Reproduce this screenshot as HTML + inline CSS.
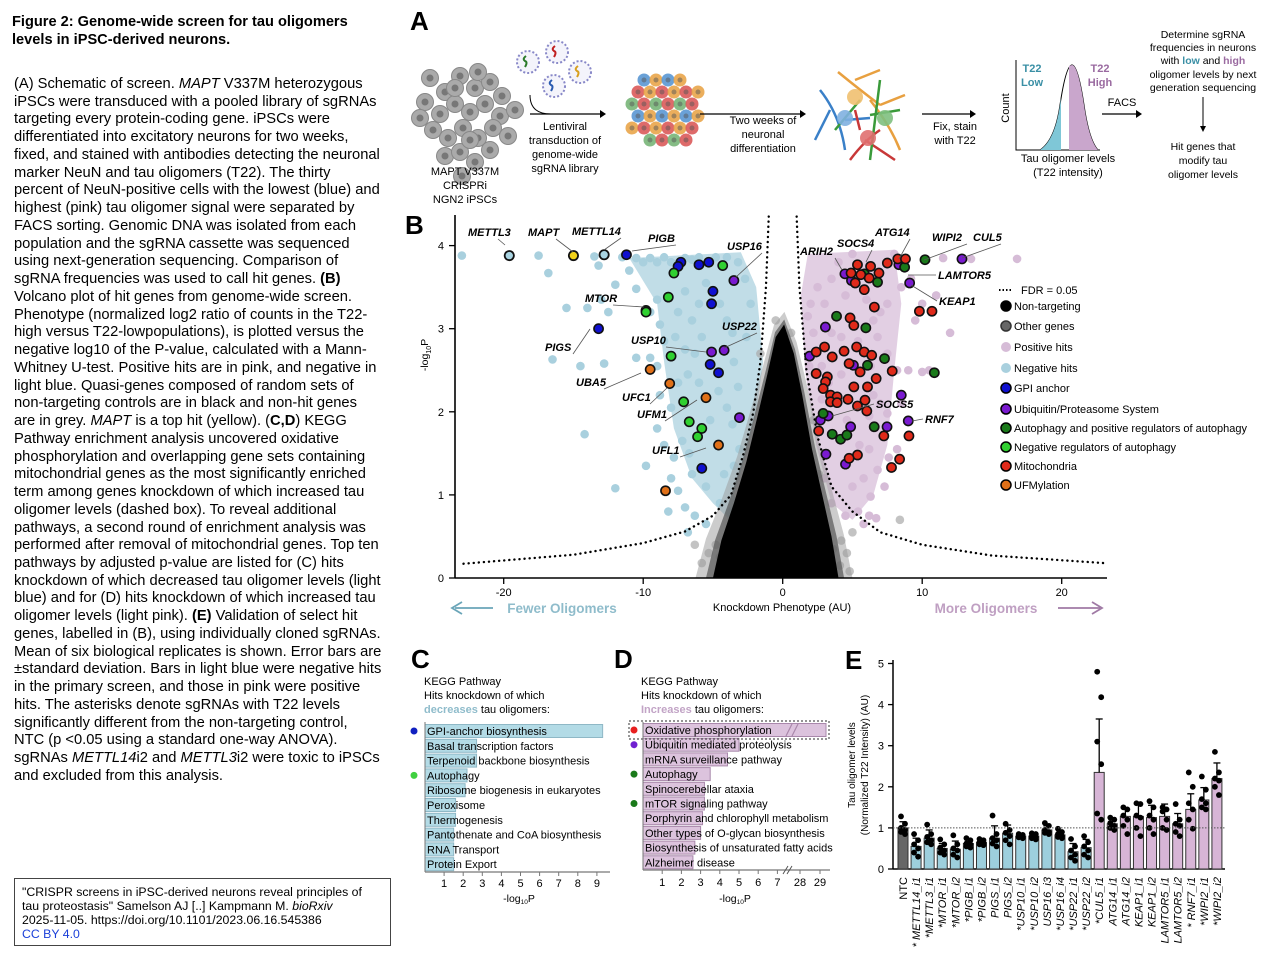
<!DOCTYPE html>
<html><head><meta charset="utf-8">
<style>
html,body{margin:0;padding:0;background:#fff;}
body{width:1280px;height:965px;position:relative;overflow:hidden;font-family:"Liberation Sans",Arial,sans-serif;color:#000;}
.ln{position:absolute;left:14px;white-space:nowrap;font-size:14.7px;line-height:17px;}
#cite{position:absolute;left:14px;top:878px;width:377px;height:68px;border:1px solid #444;font-size:12.3px;line-height:14px;padding:6px 0 0 7px;box-sizing:border-box;}
svg text{font-family:"Liberation Sans",Arial,sans-serif;}
</style></head>
<body>
<div style="position:absolute;left:12px;top:14px;font-weight:bold;font-size:14.6px;line-height:17.5px;">Figure 2: Genome-wide screen for tau oligomers<br>levels in iPSC-derived neurons.</div>
<div id="legendtext"></div>
<div id="cite">"CRISPR screens in iPSC-derived neurons reveal principles of<br>tau proteostasis" Samelson AJ [..] Kampmann M. <i>bioRxiv</i><br>2025-11-05. <a style="color:#000">https://doi.org/10.1101/2023.06.16.545386</a><br><a style="color:#1a3fd8;text-decoration:none">CC BY 4.0</a></div>

<svg id="fig" width="1280" height="965" style="position:absolute;left:0;top:0" xmlns="http://www.w3.org/2000/svg"></svg>

<script>
const captionLines=[
"(A) Schematic of screen. <i>MAPT</i> V337M heterozygous",
"iPSCs were transduced with a pooled library of sgRNAs",
"targeting every protein-coding gene. iPSCs were",
"differentiated into excitatory neurons for two weeks,",
"fixed, and stained with antibodies detecting the neuronal",
"marker NeuN and tau oligomers (T22). The thirty",
"percent of NeuN-positive cells with the lowest (blue) and",
"highest (pink) tau oligomer signal were separated by",
"FACS sorting. Genomic DNA was isolated from each",
"population and the sgRNA cassette was sequenced",
"using next-generation sequencing. Comparison of",
"sgRNA frequencies was used to call hit genes. <b>(B)</b>",
"Volcano plot of hit genes from genome-wide screen.",
"Phenotype (normalized log2 ratio of counts in the T22-",
"high versus T22-lowpopulations), is plotted versus the",
"negative log10 of the P-value, calculated with a Mann-",
"Whitney U-test. Positive hits are in pink, and negative in",
"light blue. Quasi-genes composed of random sets of",
"non-targeting controls are in black and non-hit genes",
"are in grey. <i>MAPT</i> is a top hit (yellow). (<b>C,D</b>) KEGG",
"Pathway enrichment analysis uncovered oxidative",
"phosphorylation and overlapping gene sets containing",
"mitochondrial genes as the most significantly enriched",
"term among genes knockdown of which increased tau",
"oligomer levels (dashed box). To reveal additional",
"pathways, a second round of enrichment analysis was",
"performed after removal of mitochondrial genes. Top ten",
"pathways by adjusted p-value are listed for (C) hits",
"knockdown of which decreased tau oligomer levels (light",
"blue) and for (D) hits knockdown of which increased tau",
"oligomer levels (light pink). <b>(E)</b> Validation of select hit",
"genes, labelled in (B), using individually cloned sgRNAs.",
"Mean of six biological replicates is shown. Error bars are",
"±standard deviation. Bars in light blue were negative hits",
"in the primary screen, and those in pink were positive",
"hits. The asterisks denote sgRNAs with T22 levels",
"significantly different from the non-targeting control,",
"NTC (p &lt;0.05 using a standard one-way ANOVA).",
"sgRNAs <i>METTL14</i>i2 and <i>METTL3</i>i2 were toxic to iPSCs",
"and excluded from this analysis."];
const lt=document.getElementById('legendtext');
captionLines.forEach((s,i)=>{const d=document.createElement('div');d.className='ln';d.style.top=(76+i*17.74)+'px';d.innerHTML=s;


lt.appendChild(d);});

const NS='http://www.w3.org/2000/svg';
const svg=document.getElementById('fig');
function el(tag,attrs,parent,txt){const e=document.createElementNS(NS,tag);for(const k in attrs)e.setAttribute(k,attrs[k]);if(txt!==undefined)e.textContent=txt;(parent||svg).appendChild(e);return e;}
function grp(name){const g=el('g',{});return g;}

const letters=[['A',410,30],['B',405,234],['C',411,668],['D',614,668],['E',845,669]];
letters.forEach(l=>{const t=el('text',{x:l[1],y:l[2],'font-size':26,'font-weight':'bold'},svg,l[0]);

});

// ---------- Panel A schematic ----------
const gA=grp('panel-a-schematic');
const greyCells=[[430,78],[445,92],[460,76],[475,88],[490,82],[502,96],[425,102],[440,114],[455,104],[470,112],[485,104],[500,116],[433,130],[448,138],[463,128],[478,138],[493,128],[508,136],[445,156],[460,152],[475,162],[490,150],[462,176],[478,72],[420,118],[515,110],[455,88],[470,140]];
greyCells.forEach(c=>{el('circle',{cx:c[0],cy:c[1],r:8.5,fill:'#aaa',stroke:'#888','stroke-width':1},gA);el('circle',{cx:c[0],cy:c[1],r:3.5,fill:'#777'},gA);});
[['MAPT V337M',465,175],['CRISPRi',465,189],['NGN2 iPSCs',465,203]].forEach(t=>el('text',{x:t[1],y:t[2],'font-size':11,'text-anchor':'middle'},gA,t[0]));
[[528,62,'#2a7a2a'],[557,52,'#c02020'],[580,72,'#d8a020'],[554,86,'#2a5ab0']].forEach(v=>{el('circle',{cx:v[0],cy:v[1],r:11,fill:'#f4f4fb',stroke:'#8888c8','stroke-width':2,'stroke-dasharray':'2 2'},gA);el('path',{d:`M${v[0]-3},${v[1]+5} q3,-5 0,-6 q-3,-2 1,-5`,stroke:v[2],fill:'none','stroke-width':2},gA);});
el('path',{d:'M530,95 Q530,115 553,114',fill:'none',stroke:'#000','stroke-width':1},gA);
el('line',{x1:530,y1:114,x2:600,y2:114,stroke:'#000','stroke-width':1.3},gA);
el('path',{d:'M600,110 L606,114 L600,118 Z'},gA);
[['Lentiviral',565,130],['transduction of',565,144],['genome-wide',565,158],['sgRNA library',565,172]].forEach(t=>el('text',{x:t[1],y:t[2],'font-size':11,'text-anchor':'middle'},gA,t[0]));
const cpal=['#e8a040','#d85050','#70b070','#5090d0','#e8a040','#d85050'];
for(let r=0;r<6;r++)for(let c=0;c<6;c++){const x=632+c*12+(r%2)*6,y=80+r*12;if((r==0&&(c<1||c>4))||(r==5&&(c<1||c>4)))continue;const col=cpal[(r*7+c*3)%6];el('circle',{cx:x,cy:y,r:6.5,fill:col,opacity:0.85},gA);el('circle',{cx:x,cy:y,r:2.5,fill:'#555',opacity:0.5},gA);}
el('line',{x1:700,y1:114,x2:800,y2:114,stroke:'#000','stroke-width':1.3},gA);
el('path',{d:'M800,110 L806,114 L800,118 Z'},gA);
[['Two weeks of',763,124],['neuronal',763,138],['differentiation',763,152]].forEach(t=>el('text',{x:t[1],y:t[2],'font-size':11,'text-anchor':'middle'},gA,t[0]));
[['#e8a040','M838,72 Q860,90 880,105 M855,80 L880,70 M870,100 Q890,125 900,150 M880,105 L905,95'],['#3a80c8','M820,90 Q840,115 845,150 M830,110 L815,140 M845,120 L870,118'],['#c83838','M850,160 Q865,140 880,130 M865,140 L895,160 M860,130 L855,110'],['#3a9a3a','M880,80 Q875,120 870,160 M870,115 L900,110 M860,100 L835,130']].forEach(n=>el('path',{d:n[1],stroke:n[0],'stroke-width':2.5,fill:'none'},gA));
[[855,97,'#f0c070'],[885,118,'#80c080'],[845,118,'#7fb0e0'],[868,138,'#e07070']].forEach(c=>el('circle',{cx:c[0],cy:c[1],r:8,fill:c[2],opacity:0.9},gA));
el('line',{x1:922,y1:114,x2:970,y2:114,stroke:'#000','stroke-width':1.3},gA);
el('path',{d:'M970,110 L976,114 L970,118 Z'},gA);
el('text',{x:955,y:130,'font-size':11,'text-anchor':'middle'},gA,'Fix, stain');
el('text',{x:955,y:144,'font-size':11,'text-anchor':'middle'},gA,'with T22');
el('path',{d:'M1016,60 L1016,150 L1100,150',stroke:'#000',fill:'none','stroke-width':1},gA);
el('path',{d:'M1040,150 Q1055,140 1060,105 Q1066,65 1072,65 Q1078,65 1084,105 Q1089,140 1098,150 Z',fill:'#fff',stroke:'#000','stroke-width':1},gA);
el('path',{d:'M1040,150 Q1055,140 1060,105 L1061,98 L1061,150 Z',fill:'#7fc7d7'},gA);
el('path',{d:'M1069,66 L1069,150 L1098,150 Q1089,140 1084,105 Q1078,65 1072,65 Z',fill:'#c9a6cc'},gA);
el('text',{x:1009,y:108,'font-size':11,transform:'rotate(-90 1009 108)','text-anchor':'middle'},gA,'Count');
el('text',{x:1032,y:72,'font-size':11,fill:'#3a8fa5','font-weight':'bold','text-anchor':'middle'},gA,'T22');
el('text',{x:1032,y:86,'font-size':11,fill:'#3a8fa5','font-weight':'bold','text-anchor':'middle'},gA,'Low');
el('text',{x:1100,y:72,'font-size':11,fill:'#9a6aa0','font-weight':'bold','text-anchor':'middle'},gA,'T22');
el('text',{x:1100,y:86,'font-size':11,fill:'#9a6aa0','font-weight':'bold','text-anchor':'middle'},gA,'High');
el('text',{x:1068,y:162,'font-size':11,'text-anchor':'middle'},gA,'Tau oligomer levels');
el('text',{x:1068,y:176,'font-size':11,'text-anchor':'middle'},gA,'(T22 intensity)');
el('line',{x1:1102,y1:114,x2:1136,y2:114,stroke:'#000','stroke-width':1.3},gA);
el('path',{d:'M1136,110 L1142,114 L1136,118 Z'},gA);
el('text',{x:1122,y:106,'font-size':11,'text-anchor':'middle'},gA,'FACS');
[['Determine sgRNA',1203,38],['frequencies in neurons',1203,51],['oligomer levels by next',1203,78],['generation sequencing',1203,91]].forEach(t=>el('text',{x:t[1],y:t[2],'font-size':10.5,'text-anchor':'middle'},gA,t[0]));
const wl=el('text',{x:1203,y:64,'font-size':10.5,'text-anchor':'middle'},gA);
el('tspan',{},wl,'with ');el('tspan',{fill:'#3a8fa5','font-weight':'bold'},wl,'low');el('tspan',{},wl,' and ');el('tspan',{fill:'#9a6aa0','font-weight':'bold'},wl,'high');
el('line',{x1:1203,y1:97,x2:1203,y2:128,stroke:'#000','stroke-width':1},gA);
el('path',{d:'M1200,126 L1203,132 L1206,126 Z'},gA);
[['Hit genes that',1203,150],['modify tau',1203,164],['oligomer levels',1203,178]].forEach(t=>el('text',{x:t[1],y:t[2],'font-size':10.5,'text-anchor':'middle'},gA,t[0]));

// ---------- Panel B volcano data ----------
const xTicks=[-20,-10,0,10,20];
const yTicks=[0,1,2,3,4];
const negCloud=[[-23,3.88],[-17.5,3.88],[-16.8,3.67],[-13.5,3.87],[-11.5,3.86],[-12,3.53],[-15.5,3.25],[-14,3.25],[-13,3.35],[-12.5,3.2],[-16.5,2.63],[-14.5,2.55],[-14.2,1.73],[-12,1.08],[-10.5,3.85],[-10,3.8],[-9.5,3.85],[-9,3.8],[-8.5,3.86],[-8,3.8],[-7,3.85],[-6.5,3.83],[-6,3.86],[-4.8,3.86],[-4,3.86],[-3.2,3.8],[-10.5,3.48],[-9.5,3.2],[-9,3.35],[-8.8,3.05],[-7.5,3.2],[-7,3.45],[-6.5,3.1],[-6,3.3],[-5.5,3.55],[-4.5,3.3],[-4,3.1],[-3.6,2.95],[-10.5,2.65],[-9.5,2.65],[-9,2.55],[-8.5,2.85],[-7.7,2.9],[-7,2.75],[-6.3,2.7],[-5.8,2.9],[-3.5,2.6],[-3.2,2.3],[-8.8,2.2],[-8,2.05],[-7.5,2.35],[-6.8,2.45],[-6,2.35],[-4,2.05],[-3.6,1.85],[-9,1.8],[-8.5,1.6],[-7.8,1.45],[-7.2,1.65],[-6.7,1.5],[-5.2,1.9],[-4.6,2.25],[-3.1,1.55],[-9.8,1.35],[-8,1.2],[-7.5,1.05],[-6.5,1.25],[-5.5,1.1],[-4.2,1.25],[-3.5,1.35],[-8.2,0.8],[-7,0.85],[-6.3,0.75],[-5.5,0.65],[-4.5,0.9],[-3.8,0.8],[-6.8,0.55],[-2.6,2.9],[-2.3,3.3],[-2.7,3.6],[-11,3.7],[-12.8,2.58],[-13.2,3.76]];
const posCloud=[[16.8,3.84],[13.5,3.84],[12,2.95],[11,3.4],[10,3.3],[9.5,3.1],[8.5,3.5],[7.5,3.3],[7,3.2],[8.2,2.5],[9,2.5],[10,2.48],[10.5,2.5],[7.5,2.7],[6.8,2.9],[8.5,2.1],[7.5,1.98],[7,2.1],[6.2,1.95],[5,3.9],[4,3.8],[3.5,3.6],[2.5,3.5],[2,3.3],[2.2,2.95],[1.8,3.15],[3,3.3],[4.5,3.4],[6,3.35],[6.5,3.1],[3.5,2.95],[4.2,2.9],[1.9,2.55],[2.8,2.55],[6.5,2.2],[5.5,1.6],[6.2,1.55],[6.8,1.3],[7.6,1.45],[5.8,1.2],[6.3,0.98],[5.4,0.8],[6.2,0.75],[5.8,0.65],[6.7,0.72],[7.3,1.1],[8.2,1.55],[5,1.1],[4.6,1.9],[3,1.2],[3.5,0.9],[4.5,0.75],[2.8,2.15],[8,3.9],[11.5,3.85],[9.2,3.6],[6.3,2.55],[5.4,2.85],[4.2,2.45],[3.3,2.35]];
const greyPts=[[-4.8,0.4],[-4.5,0.25],[-5.3,0.3],[-3.9,0.5],[-3.2,0.4],[3.6,0.35],[4.2,0.45],[4.6,0.3],[5,0.55],[4.1,0.15],[-6.3,0.4],[8.4,0.7],[-2.5,1.0],[2.6,1.25],[-0.5,3.1],[0.6,2.95],[-1.6,2.7],[2.2,1.9],[-5.8,0.18],[4.8,0.08]];
const blackEnvX=[-5.0,-4.4,-3.5,-2.6,-1.8,-1.1,-0.5,0.1,0.8,1.4,2.1,2.9,3.5,4.0];
const blackEnvTop=[0,0.45,0.9,1.4,1.95,2.45,2.9,3.05,2.7,2.2,1.55,0.95,0.5,0];
const negDenseX=[-2.0,-3.5,-5.0,-6.5,-7.8,-8.5,-9.0,-11.0,-3.0,-1.9,-1.4,-1.9,-2.6,-3.5];
const negDenseY=[0.55,0.65,0.9,1.2,1.8,2.6,3.3,3.85,3.92,3.5,2.6,2.0,1.5,1.0];
const posDenseX=[2.4,1.6,1.3,1.8,8.0,8.5,8.0,7.5,6.5,5.0,3.5];
const posDenseY=[1.6,2.5,3.4,3.9,3.95,3.3,2.5,1.6,1.0,0.7,0.9];
const fdrLeftX=[-1.0,-1.2,-1.6,-2.1,-2.8,-3.7,-5,-7,-10,-15,-23];
const fdrLeftY=[4.35,3.5,2.6,2.0,1.5,1.0,0.75,0.56,0.42,0.28,0.17];
const fdrRightX=[1.0,1.2,1.7,2.5,3.5,5,7,10,15,23];
const fdrRightY=[4.35,3.5,2.5,1.7,1.1,0.8,0.55,0.4,0.27,0.18];
const hitX={
 gpi:[-11.2,-7.3,-7.5,-6,-5.3,-5,-5.1,-13.2,-5.2,-4.6,-5.8],
 ups:[-3.5,-5.1,-4.2,-3.1,4.46,4.93,8.33,9.1,12.85,3.06,1.93,5.07,8.5,2.7,3.26,4.87,7.48,9.0,3.1,4.5],
 autoPos:[10.2,8.74,6.8,3.86,5.96,7.3,6.08,10.87,2.9,3.55,4.15,4.6,6.56,5.85,-9.8],
 autoNeg:[-7.8,-8.2,-9.8,-8,-7.1,-6.7,-5.8,-6.1,-4.3],
 mito:[5.36,6.3,7.5,8.25,8.8,4.9,5.6,6.2,6.9,5.2,5.85,6.57,9.8,10.7,4.83,5.1,3.0,2.4,3.55,4.4,5.3,5.84,6.38,2.4,3.2,3.07,2.9,4.76,5.55,6.7,7.85,5.1,6.08,3.43,3.9,3.43,3.9,4.68,5.36,5.9,6.03,2.58,7.25,9.05,5.36,4.76,8.38,7.8],
 ufm:[-9.5,-8.1,-5.5,-4.6,-8.4]};
const hitY={
 gpi:[3.89,3.8,3.75,3.77,3.8,3.45,3.3,3.0,2.57,2.47,1.32],
 ups:[3.58,2.72,2.74,1.93,3.66,3.58,3.77,3.55,3.84,3.02,2.67,2.56,2.2,1.9,1.95,1.82,1.82,1.89,1.49,1.37],
 autoPos:[3.83,3.74,3.56,3.15,3.01,2.64,2.56,2.47,1.98,1.73,1.67,1.72,1.82,3.66,3.22],
 autoNeg:[3.67,3.38,3.2,2.67,2.12,1.88,1.8,1.7,3.76],
 mito:[3.77,3.75,3.79,3.84,3.84,3.67,3.65,3.61,3.67,3.55,3.47,3.26,3.21,3.21,3.13,3.04,2.78,2.72,2.66,2.73,2.78,2.72,2.68,2.46,2.42,2.36,2.28,2.58,2.48,2.4,2.49,2.3,2.3,2.2,2.18,2.12,2.11,2.15,2.07,2.14,2.01,1.77,1.71,1.71,1.48,1.44,1.43,1.33],
 ufm:[2.51,2.34,2.17,1.6,1.05]};
const hitColors={gpi:'#1010d0',ups:'#7a1ad0',autoPos:'#1a7a1a',autoNeg:'#30d030',mito:'#e02a1a',ufm:'#e07018'};
const specialX=[-19.6,-15,-12.8];
const specialY=[3.88,3.88,3.89];
const specialFill=['#a9d4e2','#f2d21a','#a9d4e2'];

const vx=d=>782.7+d*13.95, vy=d=>578-d*83.1;
const gB=grp('panel-b-volcano-plot');
const clip=el('clipPath',{id:'vclip'},gB);el('rect',{x:452,y:215,width:660,height:363},clip);
const gPlot=el('g',{'clip-path':'url(#vclip)'},gB);
function poly(xs,ys,fill,op,name){const p=el('polygon',{points:xs.map((x,i)=>vx(x)+','+vy(ys[i])).join(' '),fill:fill,opacity:op},gPlot);return p;}
poly(negDenseX,negDenseY,'#acd2df',0.75,'negative-hits-dense-region');
poly(posDenseX,posDenseY,'#d8bfd9',0.75,'positive-hits-dense-region');
negCloud.forEach(p=>{const c=el('circle',{cx:vx(p[0]),cy:vy(p[1]),r:4.3,fill:'#a9d0de'},gPlot);});
posCloud.forEach(p=>{const c=el('circle',{cx:vx(p[0]),cy:vy(p[1]),r:4.3,fill:'#d6bcd7'},gPlot);});
greyPts.forEach(p=>{const c=el('circle',{cx:vx(p[0]),cy:vy(p[1]),r:4.3,fill:'#aaa',opacity:0.7},gPlot);});
poly(blackEnvX.map(x=>x*1.25),blackEnvTop.map(y=>y*1.05),'#999',0.5,'other-genes-halo');
poly(blackEnvX.map(x=>x*1.1),blackEnvTop.map(y=>y*1.02),'#555',0.7,'other-genes-inner-halo');
poly(blackEnvX,blackEnvTop,'#000',1,'non-targeting-cloud');
[[fdrLeftX,fdrLeftY,'fdr-line-left'],[fdrRightX,fdrRightY,'fdr-line-right']].forEach(f=>{const l=el('polyline',{points:f[0].map((x,i)=>vx(x)+','+vy(f[1][i])).join(' '),fill:'none',stroke:'#000','stroke-width':2.4,'stroke-dasharray':'0.1 5','stroke-linecap':'round'},gPlot);});
for(const k in hitX){hitX[k].forEach((x,i)=>{const c=el('circle',{cx:vx(x),cy:vy(hitY[k][i]),r:4.6,fill:hitColors[k],stroke:'#111','stroke-width':1.6},gPlot);});}
specialX.forEach((x,i)=>{const c=el('circle',{cx:vx(x),cy:vy(specialY[i]),r:4.6,fill:specialFill[i],stroke:'#111','stroke-width':1.8},gPlot);});
el('line',{x1:455,y1:215,x2:455,y2:578,stroke:'#000','stroke-width':1.6},gB);
el('line',{x1:455,y1:578,x2:1107,y2:578,stroke:'#000','stroke-width':1.6},gB);
yTicks.forEach(t=>{el('line',{x1:449,y1:vy(t),x2:455,y2:vy(t),stroke:'#000','stroke-width':1.3},gB);const tx=el('text',{x:444,y:vy(t)+4,'font-size':11,'text-anchor':'end'},gB,t);});
xTicks.forEach(t=>{el('line',{x1:vx(t),y1:578,x2:vx(t),y2:584,stroke:'#000','stroke-width':1.3},gB);const tx=el('text',{x:vx(t),y:596,'font-size':11,'text-anchor':'middle'},gB,t);});
const yl=el('text',{x:428,y:355,'font-size':10.5,'text-anchor':'middle',transform:'rotate(-90 428 355)'},gB);el('tspan',{},yl,'-log');el('tspan',{'font-size':7,dy:3},yl,'10');el('tspan',{dy:-3},yl,'P');

const xt=el('text',{x:782,y:611,'font-size':11,'text-anchor':'middle'},gB,'Knockdown Phenotype (AU)');
el('text',{x:562,y:613,'font-size':13.5,'font-weight':'bold','text-anchor':'middle',fill:'#8fbccb'},gB,'Fewer Oligomers');
el('line',{x1:455,y1:608,x2:493,y2:608,stroke:'#6aa5b8','stroke-width':1.8},gB);
el('path',{d:'M462,602 L452,608 L462,614',fill:'none',stroke:'#6aa5b8','stroke-width':1.8},gB);
el('text',{x:986,y:613,'font-size':13.5,'font-weight':'bold','text-anchor':'middle',fill:'#bf9fc2'},gB,'More Oligomers');
el('line',{x1:1058,y1:608,x2:1100,y2:608,stroke:'#a07aa5','stroke-width':1.8},gB);
el('path',{d:'M1092,602 L1102,608 L1092,614',fill:'none',stroke:'#a07aa5','stroke-width':1.8},gB);
const gLab=[['METTL3',468,236,505,245],['MAPT',528,236,573,252],['METTL14',572,235,604,250],['PIGB',648,242,632,251],['USP16',727,250,735,278],['MTOR',585,302,644,307],['PIGS',545,351,590,329],['USP10',631,344,706,352],['USP22',722,330,724,348],['UBA5',576,386,641,373],['UFC1',622,401,667,388],['UFM1',637,418,697,400],['UFL1',652,454,706,448],['ARIH2',800,255,842,270],['SOCS4',837,247,866,262],['ATG14',875,236,899,259],['WIPI2',932,241,924,260],['CUL5',973,241,962,258],['LAMTOR5',938,279,908,275],['KEAP1',939,305,911,285],['SOCS5',876,408,832,416],['RNF7',925,423,912,421]];
const leftAnch=['RNF7','LAMTOR5','KEAP1','SOCS5'];
gLab.forEach(g=>{const t=el('text',{x:g[1],y:g[2],'font-size':11,'font-weight':'bold','font-style':'italic'},gB,g[0]);
const isL=leftAnch.includes(g[0]);
const lx=isL?g[1]-2:(g[0]=='METTL3'?498:g[1]+g[0].length*7); const ly=isL?g[2]-4:g[2]+3;
el('line',{x1:lx,y1:ly,x2:g[3],y2:g[4],stroke:'#555','stroke-width':0.8},gB);});
const legItems=[['Non-targeting','#000','#000'],['Other genes','#666','#333'],['Positive hits','#d6bcd7','none'],['Negative hits','#a9d0de','none'],['GPI anchor','#1010d0','#000'],['Ubiquitin/Proteasome System','#7a1ad0','#000'],['Autophagy and positive regulators of autophagy','#1a7a1a','#000'],['Negative regulators of autophagy','#30d030','#000'],['Mitochondria','#e02a1a','#000'],['UFMylation','#e07018','#000']];
const legY=[306,326,347,368,388,409,428,447,466,485];
const gL=grp('volcano-legend');
el('line',{x1:999,y1:290,x2:1012,y2:290,stroke:'#000','stroke-width':2,'stroke-dasharray':'1.5 2'},gL);
el('text',{x:1021,y:294,'font-size':11},gL,'FDR = 0.05');
legItems.forEach((l,i)=>{const g=el('g',{},gL);
el('circle',{cx:1006,cy:legY[i],r:5,fill:l[1],stroke:l[2],'stroke-width':1.5},g);el('text',{x:1014,y:legY[i]+4,'font-size':11},g,l[0]);});

// ---------- Panel C ----------
const cTerms=['GPI-anchor biosynthesis','Basal transcription factors','Terpenoid backbone biosynthesis','Autophagy','Ribosome biogenesis in eukaryotes','Peroxisome','Thermogenesis','Pantothenate and CoA biosynthesis','RNA Transport','Protein Export'];
const cValues=[9.3,2.7,2.7,2.2,2.1,1.6,1.6,1.5,1.5,1.5];
const cTicks=[1,2,3,4,5,6,7,8,9];
const cx0=425, cs=19.1, rowY0=731, rowH=14.8;
const gC=grp('panel-c-kegg-decreases');
[['KEGG Pathway',685],['Hits knockdown of which',699]].forEach(t=>el('text',{x:424,y:t[1],'font-size':11},gC,t[0]));
const ct=el('text',{x:424,y:713,'font-size':11},gC);el('tspan',{fill:'#8fbccb','font-weight':'bold'},ct,'decreases');el('tspan',{},ct,' tau oligomers:');
cTerms.forEach((t,i)=>{const y=rowY0+i*rowH;const r=el('rect',{x:cx0,y:y-6.5,width:cValues[i]*cs,height:13,fill:'#b3dbe6',stroke:'#8fb8c6','stroke-width':1},gC);
el('text',{x:427,y:y+4,'font-size':11},gC,t);});
el('circle',{cx:414,cy:rowY0,r:3.5,fill:'#1020c0'},gC);el('circle',{cx:414,cy:rowY0+3*rowH,r:3.5,fill:'#40d040'},gC);
el('line',{x1:cx0,y1:872,x2:610,y2:872,stroke:'#777','stroke-width':1.3},gC);
el('line',{x1:cx0,y1:722,x2:cx0,y2:872,stroke:'#777','stroke-width':1},gC);
cTicks.forEach(t=>{el('line',{x1:cx0+t*cs,y1:872,x2:cx0+t*cs,y2:876,stroke:'#777'},gC);el('text',{x:cx0+t*cs,y:887,'font-size':11,'text-anchor':'middle'},gC,t);});
const cxl=el('text',{x:519,y:902,'font-size':10.5,'text-anchor':'middle'},gC);el('tspan',{},cxl,'-log');el('tspan',{'font-size':6.5,dy:2},cxl,'10');el('tspan',{dy:-2},cxl,'P');

// ---------- Panel D ----------
const dTerms=['Oxidative phosphorylation','Ubiquitin mediated proteolysis','mRNA surveillance pathway','Autophagy','Spinocerebellar ataxia','mTOR signaling pathway','Porphyrin and chlorophyll metabolism','Other types of O-glycan biosynthesis','Biosynthesis of unsaturated fatty acids','Alzheimer disease'];
const dValues=[29.3,5.0,4.4,3.5,3.2,3.2,3.1,3.0,2.7,2.6];
const dTicks=[1,2,3,4,5,6,7,28,29];
const dx0=643, ds=19.2;
const dScale=v=>v<=7.5?dx0+v*ds:800+(v-28)*20;
const dRow0=730, dRowH=14.7;
const gD=grp('panel-d-kegg-increases');
[['KEGG Pathway',685],['Hits knockdown of which',699]].forEach(t=>el('text',{x:641,y:t[1],'font-size':11},gD,t[0]));
const dt=el('text',{x:641,y:713,'font-size':11},gD);el('tspan',{fill:'#c2a4c6','font-weight':'bold'},dt,'Increases');el('tspan',{},dt,' tau oligomers:');
dTerms.forEach((t,i)=>{const y=dRow0+i*dRowH;const r=el('rect',{x:dx0,y:y-6.5,width:dScale(dValues[i])-dx0,height:13,fill:'#dcc3dd',stroke:'#a988ab','stroke-width':1},gD);
el('text',{x:645,y:y+4,'font-size':11},gD,t);});
el('path',{d:`M786,${dRow0+6} L792,${dRow0-6} M792,${dRow0+6} L798,${dRow0-6}`,stroke:'#a988ab','stroke-width':1.2,fill:'none'},gD);
el('rect',{x:629,y:721,width:200,height:18,fill:'none',stroke:'#555','stroke-width':1.2,'stroke-dasharray':'2 2'},gD);
[[0,'#e82020'],[1,'#7020d0'],[3,'#1a7a1a'],[5,'#1a7a1a']].forEach(d=>el('circle',{cx:634,cy:dRow0+d[0]*dRowH,r:3.5,fill:d[1]},gD));
el('line',{x1:dx0,y1:870,x2:830,y2:870,stroke:'#777','stroke-width':1.3},gD);
el('line',{x1:dx0,y1:722,x2:dx0,y2:870,stroke:'#777','stroke-width':1},gD);
el('path',{d:'M783,874 L788,866 M787,874 L792,866',stroke:'#555',fill:'none'},gD);
dTicks.forEach(t=>{el('line',{x1:dScale(t),y1:870,x2:dScale(t),y2:874,stroke:'#777'},gD);el('text',{x:dScale(t),y:886,'font-size':11,'text-anchor':'middle'},gD,t);});
const dxl=el('text',{x:735,y:902,'font-size':10.5,'text-anchor':'middle'},gD);el('tspan',{},dxl,'-log');el('tspan',{'font-size':6.5,dy:2},dxl,'10');el('tspan',{dy:-2},dxl,'P');

// ---------- Panel E ----------
const eLabels=['NTC','* METTL14_i1','*METTL3_i1','*MTOR_i1','*MTOR_i2','*PIGB_i1','*PIGB_i2','PIGS_i1','PIGS_i2','*USP10_i1','*USP10_i2','USP16_i3','*USP16_i4','*USP22_i1','*USP22_i2','*CUL5_i1','ATG14_i1','ATG14_i2','KEAP1_i1','KEAP1_i2','LAMTOR5_i1','LAMTOR5_i2','* RNF7_i1','*WIPI2_i1','*WIPI2_i2'];
const eMeans=[1.0,0.55,0.75,0.5,0.48,0.62,0.65,0.75,0.87,0.8,0.8,0.95,0.83,0.42,0.52,2.35,1.1,1.28,1.28,1.25,1.28,1.1,1.45,1.68,2.2];
const eSD=[0.15,0.2,0.2,0.12,0.2,0.1,0.08,0.3,0.2,0.05,0.07,0.1,0.1,0.2,0.2,1.3,0.15,0.2,0.3,0.3,0.3,0.25,0.38,0.3,0.38];
const eGroup=['ntc','neg','neg','neg','neg','neg','neg','neg','neg','neg','neg','neg','neg','neg','neg','pos','pos','pos','pos','pos','pos','pos','pos','pos','pos'];
const eReps=[[1.28,1.1,1.0,0.95,0.9,0.85],[0.85,0.7,0.6,0.5,0.4,0.3],[1.08,0.85,0.78,0.7,0.65,0.6],[0.72,0.6,0.52,0.45,0.4,0.35],[0.82,0.6,0.5,0.45,0.35,0.28],[0.75,0.7,0.62,0.6,0.55,0.52],[0.73,0.7,0.65,0.62,0.6,0.58],[1.3,0.85,0.75,0.7,0.62,0.55],[1.1,0.95,0.88,0.8,0.7,0.6],[0.85,0.83,0.8,0.78,0.77,0.75],[0.87,0.85,0.8,0.78,0.75,0.72],[1.12,1.05,0.95,0.9,0.88,0.85],[0.98,0.9,0.85,0.8,0.78,0.75],[0.73,0.55,0.45,0.35,0.28,0.2],[0.8,0.65,0.55,0.45,0.35,0.28],[4.8,4.18,3.1,2.55,1.35,1.2],[1.25,1.2,1.12,1.05,1.0,0.95],[1.5,1.45,1.3,1.2,1.05,0.85],[1.6,1.58,1.3,1.25,1.0,0.8],[1.65,1.5,1.3,1.2,1.0,0.85],[1.5,1.45,1.4,1.2,1.0,0.95],[1.58,1.2,1.1,1.05,0.9,0.8],[2.35,2.0,1.6,1.45,1.2,0.98],[2.25,1.93,1.7,1.6,1.5,1.45],[2.85,2.35,2.2,2.15,2.0,1.8]];
const eTicks=[0,1,2,3,4,5];
const ex=i=>903+i*13.08, ey=v=>869-v*41.1;
const gE=grp('panel-e-validation-bars');
el('line',{x1:893,y1:660,x2:893,y2:869,stroke:'#000','stroke-width':1.5},gE);
el('line',{x1:893,y1:869,x2:1225,y2:869,stroke:'#000','stroke-width':1.5},gE);
eTicks.forEach(t=>{el('line',{x1:888,y1:ey(t),x2:893,y2:ey(t),stroke:'#000','stroke-width':1.3},gE);el('text',{x:884,y:ey(t)+4,'font-size':11,'text-anchor':'end'},gE,t);});
const fillE={ntc:'#666',neg:'#9dcfdd',pos:'#d7b5d6'};
eMeans.forEach((m,i)=>{const r=el('rect',{x:ex(i)-5,y:ey(m),width:10,height:ey(0)-ey(m),fill:fillE[eGroup[i]],stroke:'#333','stroke-width':1},gE);
el('line',{x1:ex(i),y1:ey(m+eSD[i]),x2:ex(i),y2:ey(m),stroke:'#000','stroke-width':1.3},gE);el('line',{x1:ex(i)-3.5,y1:ey(m+eSD[i]),x2:ex(i)+3.5,y2:ey(m+eSD[i]),stroke:'#000','stroke-width':1.3},gE);
eReps[i].forEach((v,j)=>{el('circle',{cx:ex(i)+(j%2?2:-2),cy:ey(v),r:2.9,fill:'#000'},gE);});
const t=el('text',{x:ex(i)+4,y:877,'font-size':11,'font-style':i==0?'normal':'italic','text-anchor':'end',transform:`rotate(-90 ${ex(i)+4} 877)`},gE,eLabels[i]);});
el('line',{x1:893,y1:ey(1),x2:1225,y2:ey(1),stroke:'#555','stroke-width':1,'stroke-dasharray':'1.5 1.5'},gE);
el('text',{x:855,y:765,'font-size':10,'text-anchor':'middle',transform:'rotate(-90 855 765)'},gE,'Tau oligomer levels');
el('text',{x:868,y:765,'font-size':10,'text-anchor':'middle',transform:'rotate(-90 868 765)'},gE,'(Normalized T22 Intensity) (AU)');
</script>
</body></html>
